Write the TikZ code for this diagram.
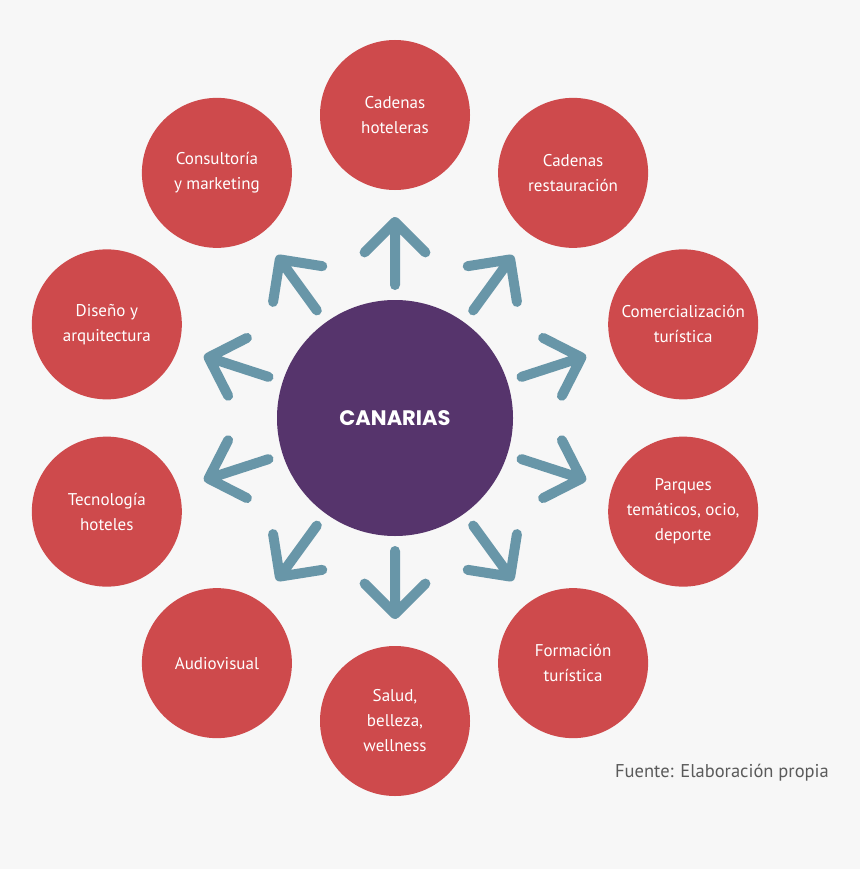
\documentclass[tikz,border=0pt]{standalone}
\usepackage{fontspec}
\setmainfont{PT Sans}
\newfontfamily\hubfont{Poppins}
\definecolor{bgpaper}{HTML}{F7F7F7}
\definecolor{satred}{HTML}{CE4A4C}
\definecolor{hubpurple}{HTML}{56346C}
\definecolor{spokeblue}{HTML}{6896A8}
\definecolor{notegray}{HTML}{5A5A5A}

\begin{document}
\begin{tikzpicture}[x=1pt,y=1pt,
        hub/.style={circle,fill=hubpurple,minimum size=236pt,inner sep=0pt,text=white,font=\hubfont\bfseries\fontsize{21}{24}\selectfont},
        satellite/.style={circle,fill=satred,minimum size=150pt,inner sep=0pt,text=white,align=center,font=\fontsize{17}{25}\selectfont},
        spoke/.style={draw=spokeblue,line width=10pt,line cap=round,line join=round}]
            \fill[bgpaper] (0,0) rectangle (860,-869);
            \node[hub] (can) at (395,-418) {CANARIAS};
            \foreach \a/\n/\t in {90/hot/{Cadenas\\hoteleras},
                    54/res/{Cadenas\\restauración},
                    18/com/{Comercialización\\turística},
                    -18/par/{Parques\\temáticos, ocio,\\deporte},
                    -54/for/{Formación\\turística},
                    -90/sal/{Salud,\\belleza,\\wellness},
                    -126/aud/{Audiovisual},
                    -162/tec/{Tecnología\\hoteles},
                    162/dis/{Diseño y\\arquitectura},
                    126/con/{Consultoría\\y marketing}}{
                \path (can) ++(\a:303) node[satellite] (\n) {\t};
                \path (can) ++(\a:133) coordinate (\n-t) ++(\a:63) coordinate (\n-h);
                \draw[spoke] (\n-t) -- (\n-h) -- +(\a+135:43) (\n-h) -- +(\a-135:43);
            }
            \node[text=notegray,font=\fontsize{18.5}{22}\selectfont] (src) at (722,-773) {Fuente: Elaboración propia};
\end{tikzpicture}
\end{document}
